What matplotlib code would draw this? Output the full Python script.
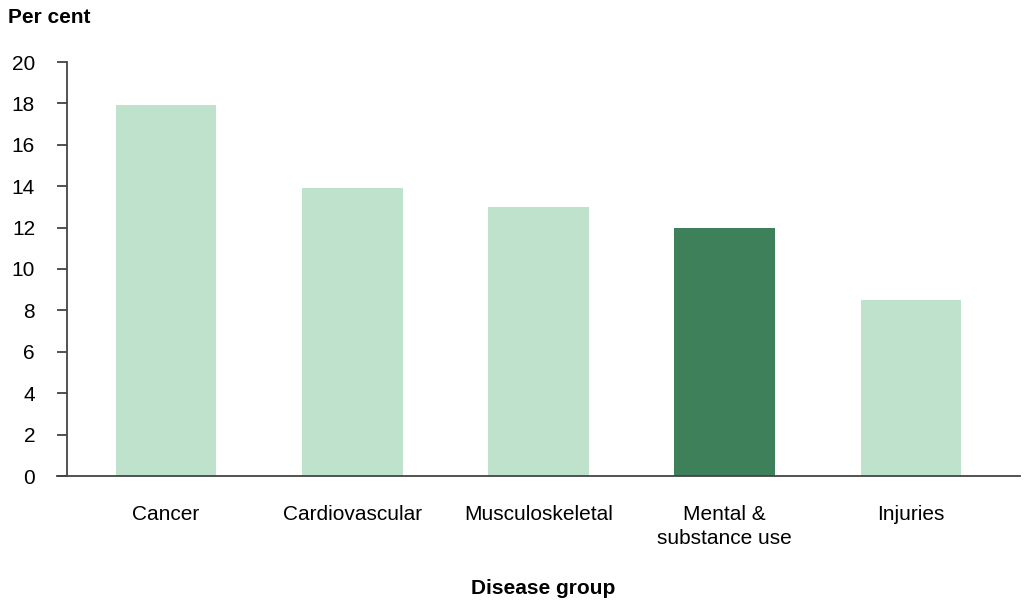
import matplotlib.pyplot as plt

plt.rcParams['font.family'] = ['Liberation Sans', 'DejaVu Sans']

# disease groups and share (per cent)
groups = ['Cancer', 'Cardiovascular', 'Musculoskeletal', 'Mental &\nsubstance use', 'Injuries']
values = [17.9, 13.9, 13.0, 12.0, 8.5]
highlight = 'Mental &\nsubstance use'

light = '#BFE2CD'
dark = '#3D805A'
axis_col = '#444444'

fig = plt.figure(figsize=(10.28, 6.02), dpi=100)
ax = fig.add_axes([57 / 1028, 126 / 602, 963 / 1028, 414 / 602])

x = list(range(len(groups)))
colours = [dark if g == highlight else light for g in groups]
ax.bar(x, values, width=0.54, color=colours, zorder=2)

ax.set_xlim(-0.585, 4.585)
ax.set_ylim(0, 20)
ax.set_yticks(range(0, 21, 2))
ax.set_xticks(x)
ax.set_xticklabels(groups, fontsize=15, linespacing=1.3, va='top')

for s in ['top', 'right']:
    ax.spines[s].set_visible(False)
ax.spines['left'].set_position(('data', -0.53))
ax.spines['left'].set_color(axis_col)
ax.spines['bottom'].set_color(axis_col)
ax.spines['left'].set_linewidth(1.3)
ax.spines['bottom'].set_linewidth(1.3)

ax.tick_params(axis='x', length=0, pad=21)
ax.tick_params(axis='y', length=7.2, width=1.3, color=axis_col, pad=16, labelsize=15)

fig.text(543 / 1028, 1 - 588 / 602, 'Disease group', fontsize=15, fontweight='bold',
         ha='center', va='center')
fig.text(8 / 1028, 1 - 8 / 602, 'Per cent', fontsize=15, fontweight='bold', va='top', ha='left')

fig.savefig('out.png', dpi=100)
